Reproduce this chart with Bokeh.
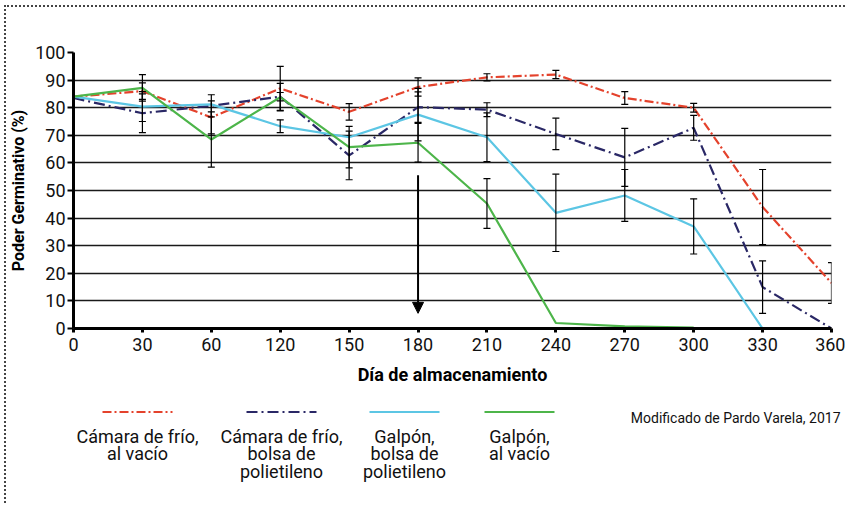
import math
from bokeh.plotting import figure
from bokeh.models import (ColumnDataSource, Whisker, TeeHead, Arrow, NormalHead,
                          FixedTicker, Range1d, GlobalInlineStyleSheet)
from bokeh.layouts import column
from bokeh.core.properties import value
from bokeh.embed import file_html
from bokeh.resources import INLINE

NaN = float("nan")

# ---------------- data ----------------
days = [0, 30, 60, 120, 150, 180, 210, 240, 270, 300, 330, 360]

camara_vacio = [84, 86, 76.5, 87, 78.5, 87.5, 91, 92, 83.5, 80, 44, 16.5]
camara_vacio_err = [NaN, 3, 6, 8, 3, 3.3, 1.3, 1.5, 2.3, 1.6, 13.6, 7.4]

camara_bolsa = [83.5, 78, 80.7, 84, 62.7, 80.2, 79.3, 70.5, 62, 72.7, 15, 0]
camara_bolsa_err = [NaN, 7, 4, 1.5, 8.8, 5.5, 2.5, 5.7, 10.5, 4.5, 9.5, NaN]

galpon_bolsa = [84, 80.4, 81.2, 73.3, 69.3, 77.5, 69.3, 41.9, 48.2, 37, 0]
galpon_bolsa_err = [NaN, 5.4, NaN, 2.3, NaN, 9.5, 8.8, 14, 9.4, 10, NaN]

galpon_vacio = [84, 87.2, 68.5, 83.8, 65.7, 67.3, 45.3, 2, 0.8, 0.3]
galpon_vacio_err = [NaN, 4.8, 10, 5, 7.5, 7, 9, NaN, NaN, NaN]

series_names = [
    "Cámara de frío,\nal vacío",
    "Cámara de frío,\nbolsa de\npolietileno",
    "Galpón,\nbolsa de\npolietileno",
    "Galpón,\nal vacío",
]
x_title = "Día de almacenamiento"
y_title = "Poder Germinativo (%)"
source_note = "Modificado de Pardo Varela, 2017"

# arrow marking day 180
arrow_day = 180
arrow_from, arrow_to = 55.5, 5.5

# ---------------- styles ----------------
FONT = "Roboto"
colors = ["#E4422C", "#2A2866", "#5CC6E4", "#4DB54A"]
dashes = ["9 3 2 3", "11 4 2 4", "solid", "solid"]
values_all = [camara_vacio, camara_bolsa, galpon_bolsa, galpon_vacio]
errs_all = [camara_vacio_err, camara_bolsa_err, galpon_bolsa_err, galpon_vacio_err]

SHIFT_X, SHIFT_Y = 6, 7          # room taken by the dotted page border
TOP_B, BOT_B, LEFT_B, RIGHT_B = 45, 64, 66, 14
FRAME_W, FRAME_H = 758, 276
TOP_H = TOP_B + FRAME_H + BOT_B
LEG_Y0 = SHIFT_Y + TOP_H
LEG_Y1 = 503
LEG_H = LEG_Y1 - LEG_Y0
FRAME_X0 = SHIFT_X + LEFT_B      # page x of the frame's left edge
LEG_W = FRAME_W + RIGHT_B

p = figure(frame_width=FRAME_W, frame_height=FRAME_H, output_backend="svg",
           toolbar_location=None, x_range=Range1d(0, len(days) - 1),
           y_range=Range1d(0, 100), min_border_left=LEFT_B,
           min_border_right=RIGHT_B, min_border_top=TOP_B, min_border_bottom=BOT_B)
p.outline_line_color = None
p.background_fill_color = "white"
p.border_fill_color = "white"

xi = list(range(len(days)))

for vals, col, dash in zip(values_all, colors, dashes):
    xs = xi[:len(vals)]
    p.line(xs, vals, line_color=col, line_width=2.2, line_dash=dash)

for vals, errs in zip(values_all, errs_all):
    bx, up, lo = [], [], []
    for i, (v, e) in enumerate(zip(vals, errs)):
        if not math.isnan(e):
            bx.append(i)
            up.append(v + e)
            lo.append(max(v - e, 0))
    src = ColumnDataSource(dict(x=bx, upper=up, lower=lo))
    w = Whisker(base="x", upper="upper", lower="lower", source=src,
                dimension="height", line_color="black", line_width=1.2, level="overlay",
                upper_head=TeeHead(size=7, line_color="black", line_width=1.2),
                lower_head=TeeHead(size=7, line_color="black", line_width=1.2))
    p.add_layout(w)

ai = days.index(arrow_day)
p.add_layout(Arrow(x_start=ai, y_start=arrow_from, x_end=ai, y_end=arrow_to,
                   line_color="black", line_width=2,
                   end=NormalHead(size=11, fill_color="black", line_color="black")))

# axes
p.xaxis.ticker = FixedTicker(ticks=xi)
p.xaxis.major_label_overrides = {i: str(d) for i, d in enumerate(days)}
p.yaxis.ticker = FixedTicker(ticks=list(range(0, 101, 10)))
for ax in (p.xaxis[0], p.yaxis[0]):
    ax.axis_line_width = 3
    ax.axis_line_color = "black"
    ax.major_tick_in = 0
    ax.minor_tick_line_color = None
    ax.major_tick_line_color = "black"
    ax.major_label_text_font = FONT
    ax.major_label_text_font_size = "18px"
    ax.major_label_text_color = "#111"
    ax.axis_label_text_font = FONT
    ax.axis_label_text_font_style = "bold"
    ax.axis_label_text_color = "black"
p.xaxis.major_tick_out = 4
p.xaxis.major_tick_line_width = 3
p.xaxis.major_label_standoff = 5
p.xaxis.axis_label = x_title
p.xaxis.axis_label_text_font_size = "18px"
p.xaxis.axis_label_standoff = 10
p.yaxis.major_tick_out = 6
p.yaxis.major_tick_line_width = 2
p.yaxis.major_label_standoff = 2
p.yaxis.axis_label = y_title
p.yaxis.axis_label_text_font_size = "16px"
p.yaxis.axis_label_standoff = 4

p.xgrid.grid_line_color = None
p.ygrid.grid_line_color = "#1a1a1a"
p.ygrid.grid_line_width = 1.5

# ---------------- legend panel (left edge aligned with the chart frame) ----------------
lg = figure(frame_width=LEG_W, frame_height=LEG_H,
            output_backend="svg", toolbar_location=None,
            x_axis_location=None, y_axis_location=None,
            x_range=Range1d(FRAME_X0, FRAME_X0 + LEG_W),
            y_range=Range1d(LEG_Y1, LEG_Y0),
            min_border_left=LEFT_B, min_border_right=0,
            min_border_top=0, min_border_bottom=0)
lg.grid.visible = False
lg.outline_line_color = None
lg.background_fill_color = "white"
lg.border_fill_color = "white"

centers = [136, 280, 403, 518]
for c, col, dash, name in zip(centers, colors, dashes, series_names):
    lg.line([c - 35, c + 35], [411.5, 411.5], line_color=col, line_width=2.2, line_dash=dash)
    for k, ln in enumerate(name.split("\n")):
        lg.text([c], [436 + 17.3 * k], text=[ln], text_align="center",
                text_baseline="alphabetic", text_font=value(FONT),
                text_font_size="18px", text_color="#111")
lg.text([839], [417], text=[source_note], text_align="right", text_baseline="alphabetic",
        text_font=value(FONT), text_font_size="14px", text_color="#111")

page_css = GlobalInlineStyleSheet(css="html, body { margin: 0; padding: 0; overflow: hidden; background: white; }")

layout = column(p, lg, spacing=0, margin=(5, 0, 0, 4),
                stylesheets=[page_css],
                styles={"border-top": "2px dotted #444", "border-left": "2px dotted #444",
                        "background": "white"})

open("out.html", "w").write(file_html(layout, INLINE))
